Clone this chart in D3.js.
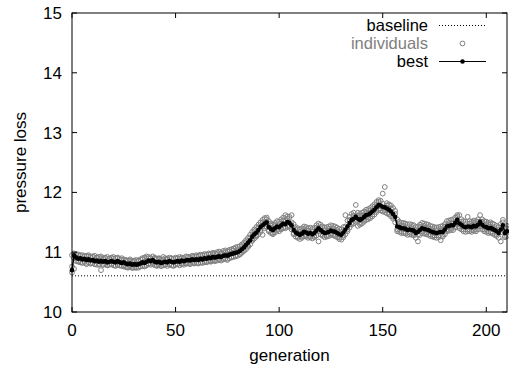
<!DOCTYPE html>
<html><head><meta charset="utf-8">
<script src="https://cdn.jsdelivr.net/npm/d3@7/dist/d3.min.js"></script>
<style>
html,body{margin:0;padding:0;background:#fff;}
svg{display:block;font-family:"Liberation Sans",Arial,Helvetica,sans-serif;}
</style></head>
<body>
<svg id="chart" width="509" height="369"></svg>
<script>
const xTicks = [0, 50, 100, 150, 200];
const yTicks = [10, 11, 12, 13, 14, 15];
const baseline = 10.605;
const best = [
10.70,10.95,10.91,10.89,10.90,10.88,10.89,10.87,10.88,10.86,
10.87,10.85,10.86,10.84,10.85,10.84,10.85,10.83,10.84,10.85,
10.84,10.83,10.85,10.83,10.82,10.83,10.81,10.80,10.81,10.79,
10.80,10.79,10.80,10.81,10.83,10.82,10.84,10.86,10.85,10.87,
10.84,10.83,10.84,10.82,10.83,10.84,10.83,10.85,10.84,10.83,
10.84,10.85,10.84,10.86,10.85,10.86,10.87,10.86,10.88,10.87,
10.88,10.87,10.89,10.88,10.90,10.89,10.91,10.90,10.92,10.91,
10.92,10.93,10.92,10.94,10.95,10.94,10.96,10.97,10.98,10.99,
11.00,11.02,11.05,11.08,11.12,11.16,11.20,11.26,11.30,11.33,
11.37,11.42,11.45,11.48,11.50,11.42,11.39,11.37,11.40,11.43,
11.42,11.45,11.48,11.47,11.51,11.49,11.45,11.37,11.33,11.31,
11.29,11.31,11.34,11.33,11.31,11.32,11.30,11.32,11.36,11.40,
11.37,11.34,11.32,11.33,11.34,11.36,11.35,11.34,11.32,11.30,
11.29,11.33,11.38,11.43,11.49,11.54,11.56,11.59,11.56,11.54,
11.56,11.59,11.62,11.63,11.65,11.68,11.71,11.75,11.79,11.78,
11.76,11.75,11.73,11.71,11.68,11.64,11.59,11.43,11.42,11.40,
11.40,11.39,11.37,11.38,11.37,11.36,11.32,11.34,11.37,11.40,
11.39,11.38,11.37,11.35,11.34,11.33,11.32,11.33,11.34,11.34,
11.38,11.43,11.44,11.45,11.45,11.49,11.54,11.48,11.46,11.43,
11.42,11.43,11.43,11.42,11.44,11.43,11.46,11.51,11.46,11.43,
11.42,11.40,11.41,11.39,11.37,11.35,11.32,11.38,11.45,11.32,11.35];
const indivUpper = [
10.95,10.98,10.97,10.96,10.94,10.95,10.93,10.94,10.95,10.92,
10.93,10.94,10.91,10.92,10.93,10.90,10.91,10.92,10.89,10.91,
10.92,10.90,10.91,10.89,10.90,10.88,10.87,10.86,10.88,10.85,
10.86,10.87,10.86,10.88,10.90,10.91,10.93,10.92,10.90,10.93,
10.91,10.89,10.90,10.88,10.92,10.90,10.89,10.91,10.90,10.89,
10.91,10.90,10.92,10.91,10.90,10.93,10.92,10.91,10.94,10.93,
10.95,10.94,10.96,10.95,10.97,10.96,10.98,10.97,10.99,10.98,
11.00,11.01,10.99,11.02,11.03,11.02,11.04,11.05,11.06,11.08,
11.09,11.10,11.13,11.16,11.20,11.24,11.29,11.34,11.38,11.42,
11.46,11.50,11.54,11.57,11.58,11.52,11.48,11.46,11.49,11.52,
11.51,11.55,11.58,11.62,11.60,11.59,11.62,11.47,11.42,11.40,
11.38,11.40,11.43,11.42,11.40,11.41,11.39,11.41,11.45,11.48,
11.46,11.43,11.41,11.42,11.43,11.45,11.44,11.43,11.41,11.39,
11.38,11.42,11.62,11.53,11.59,11.64,11.66,11.79,11.66,11.64,
11.66,11.68,11.71,11.72,11.74,11.77,11.80,11.84,11.87,11.86,
11.98,12.09,11.82,11.80,11.78,11.74,11.69,11.55,11.51,11.49,
11.49,11.48,11.46,11.47,11.46,11.45,11.42,11.43,11.46,11.49,
11.48,11.47,11.46,11.44,11.43,11.42,11.41,11.42,11.43,11.44,
11.47,11.52,11.53,11.54,11.55,11.58,11.62,11.62,11.55,11.52,
11.51,11.59,11.52,11.51,11.53,11.52,11.55,11.62,11.55,11.52,
11.51,11.49,11.50,11.48,11.46,11.44,11.42,11.47,11.54,11.42,11.44];
const indivMid = [
10.76,10.90,10.96,10.85,10.95,10.83,10.94,10.82,10.93,10.81,
10.92,10.80,10.91,10.79,10.90,10.79,10.90,10.78,10.89,10.80,
10.89,10.78,10.90,10.78,10.87,10.78,10.86,10.75,10.86,10.74,
10.85,10.74,10.85,10.76,10.88,10.77,10.89,10.81,10.90,10.82,
10.89,10.78,10.89,10.77,10.88,10.79,10.88,10.80,10.89,10.78,
10.89,10.80,10.89,10.81,10.90,10.81,10.92,10.81,10.93,10.82,
10.93,10.82,10.94,10.83,10.95,10.84,10.96,10.85,10.97,10.86,
10.97,10.88,10.97,10.89,11.00,10.89,11.01,10.92,11.03,10.94,
11.05,10.97,11.10,11.03,11.17,11.11,11.25,11.21,11.35,11.28,
11.42,11.37,11.50,11.43,11.55,11.37,11.44,11.32,11.45,11.38,
11.47,11.40,11.53,11.42,11.56,11.44,11.50,11.32,11.38,11.26,
11.34,11.26,11.39,11.28,11.36,11.27,11.35,11.27,11.41,11.35,
11.42,11.29,11.37,11.28,11.39,11.31,11.40,11.29,11.37,11.25,
11.34,11.28,11.43,11.38,11.54,11.49,11.61,11.54,11.61,11.49,
11.61,11.54,11.67,11.58,11.70,11.63,11.76,11.70,11.84,11.73,
11.81,11.70,11.78,11.66,11.73,11.59,11.64,11.38,11.47,11.35,
11.45,11.34,11.42,11.33,11.42,11.31,11.37,11.29,11.42,11.35,
11.44,11.33,11.42,11.30,11.39,11.28,11.37,11.28,11.39,11.29,
11.43,11.38,11.49,11.40,11.50,11.44,11.59,11.43,11.51,11.38,
11.47,11.38,11.48,11.37,11.49,11.38,11.51,11.46,11.51,11.38,
11.47,11.35,11.46,11.34,11.42,11.30,11.37,11.33,11.50,11.27,11.40];
const indivLower = [
10.66,10.72,10.85,10.84,10.83,10.82,10.84,10.80,10.83,10.81,
10.82,10.80,10.79,10.80,10.70,10.79,10.80,10.78,10.79,10.80,
10.78,10.77,10.79,10.78,10.77,10.76,10.75,10.74,10.76,10.74,
10.74,10.75,10.74,10.76,10.77,10.76,10.78,10.80,10.79,10.80,
10.78,10.77,10.79,10.77,10.78,10.79,10.77,10.79,10.78,10.77,
10.79,10.80,10.78,10.80,10.79,10.81,10.81,10.80,10.82,10.81,
10.82,10.81,10.83,10.82,10.84,10.83,10.85,10.84,10.86,10.85,
10.86,10.87,10.86,10.88,10.89,10.87,10.90,10.91,10.92,10.93,
10.94,10.96,10.99,11.02,11.05,11.09,11.13,11.19,11.23,11.26,
11.30,11.34,11.29,11.40,11.42,11.35,11.32,11.30,11.33,11.36,
11.35,11.38,11.41,11.40,11.44,11.42,11.38,11.30,11.26,11.24,
11.22,11.24,11.27,11.26,11.24,11.25,11.23,11.25,11.28,11.18,
11.30,11.27,11.25,11.26,11.27,11.29,11.28,11.27,11.25,11.22,
11.21,11.25,11.30,11.35,11.41,11.46,11.48,11.51,11.44,11.46,
11.48,11.51,11.54,11.55,11.57,11.60,11.63,11.67,11.71,11.70,
11.68,11.67,11.65,11.63,11.60,11.56,11.50,11.35,11.34,11.32,
11.32,11.31,11.29,11.30,11.29,11.28,11.24,11.18,11.29,11.32,
11.31,11.30,11.29,11.27,11.26,11.25,11.24,11.25,11.20,11.26,
11.30,11.35,11.36,11.37,11.37,11.41,11.46,11.40,11.38,11.35,
11.34,11.35,11.35,11.34,11.36,11.35,11.38,11.43,11.38,11.35,
11.34,11.32,11.33,11.31,11.29,11.27,11.24,11.18,11.37,11.25,11.27];
const legendLabels = ["baseline", "individuals", "best"];

const svg = d3.select("#chart");
const L = 72, R = 507, T = 13, B = 312;
const x = d3.scaleLinear().domain([0, 210]).range([L, R]);
const y = d3.scaleLinear().domain([10, 15]).range([B, T]);
const gens = best.map((d, i) => i);
const FS = 17;
const GRAY = "#808080";

// baseline
svg.append("line").attr("x1", x(0)).attr("x2", x(210)).attr("y1", y(baseline)).attr("y2", y(baseline))
  .attr("stroke", "#000").attr("stroke-width", 1).attr("stroke-dasharray", "1,2");

// individuals
const indiv = [];
gens.forEach(g => {
  indiv.push([g, indivUpper[g]]);
  indiv.push([g, indivMid[g]]);
  indiv.push([g, indivLower[g]]);
});
svg.append("g").selectAll("circle").data(indiv).join("circle")
  .attr("cx", d => x(d[0])).attr("cy", d => y(d[1])).attr("r", 2.4)
  .attr("fill", "none").attr("stroke", GRAY).attr("stroke-width", 1);

// best line
svg.append("path").datum(best)
  .attr("d", d3.line().x((d, i) => x(i)).y(d => y(d)))
  .attr("fill", "none").attr("stroke", "#000").attr("stroke-width", 1.5);
svg.append("g").selectAll("circle").data(best).join("circle")
  .attr("cx", (d, i) => x(i)).attr("cy", d => y(d)).attr("r", 2.3).attr("fill", "#000");

// axes (ticks inward, mirrored)
const tl = 5;
const ax = svg.append("g");
ax.append("rect").attr("x", L).attr("y", T).attr("width", R - L).attr("height", B - T)
  .attr("fill", "none").attr("stroke", "#000").attr("stroke-width", 1);
xTicks.forEach(t => {
  ax.append("line").attr("x1", x(t)).attr("x2", x(t)).attr("y1", B).attr("y2", B - tl).attr("stroke", "#000");
  ax.append("line").attr("x1", x(t)).attr("x2", x(t)).attr("y1", T).attr("y2", T + tl).attr("stroke", "#000");
  ax.append("text").attr("x", x(t)).attr("y", B + 24).attr("text-anchor", "middle")
    .attr("font-size", FS).text(t);
});
yTicks.forEach(t => {
  ax.append("line").attr("x1", L).attr("x2", L + tl).attr("y1", y(t)).attr("y2", y(t)).attr("stroke", "#000");
  ax.append("line").attr("x1", R).attr("x2", R - tl).attr("y1", y(t)).attr("y2", y(t)).attr("stroke", "#000");
  ax.append("text").attr("x", L - 10).attr("y", y(t)).attr("dy", "0.35em").attr("text-anchor", "end")
    .attr("font-size", FS).text(t);
});
svg.append("text").attr("x", (L + R) / 2).attr("y", 361).attr("text-anchor", "middle")
  .attr("font-size", FS).text("generation");
svg.append("text").attr("transform", `translate(26,${(T + B) / 2}) rotate(-90)`).attr("text-anchor", "middle")
  .attr("font-size", FS).text("pressure loss");

// legend
const ly = [25.5, 43.5, 61.5];
const LFS = 16.5;
const lg = svg.append("g");
legendLabels.forEach((lab, i) => {
  lg.append("text").attr("x", 428).attr("y", ly[i]).attr("dy", "0.35em").attr("text-anchor", "end")
    .attr("font-size", LFS).attr("fill", i === 1 ? GRAY : "#000").text(lab);
});
lg.append("line").attr("x1", 439).attr("x2", 486).attr("y1", ly[0]).attr("y2", ly[0])
  .attr("stroke", "#000").attr("stroke-dasharray", "1,2");
lg.append("circle").attr("cx", 462.5).attr("cy", ly[1]).attr("r", 2.4)
  .attr("fill", "none").attr("stroke", GRAY);
lg.append("line").attr("x1", 439).attr("x2", 486).attr("y1", ly[2]).attr("y2", ly[2])
  .attr("stroke", "#000").attr("stroke-width", 1);
lg.append("circle").attr("cx", 462.5).attr("cy", ly[2]).attr("r", 2.3).attr("fill", "#000");
</script>
</body></html>
